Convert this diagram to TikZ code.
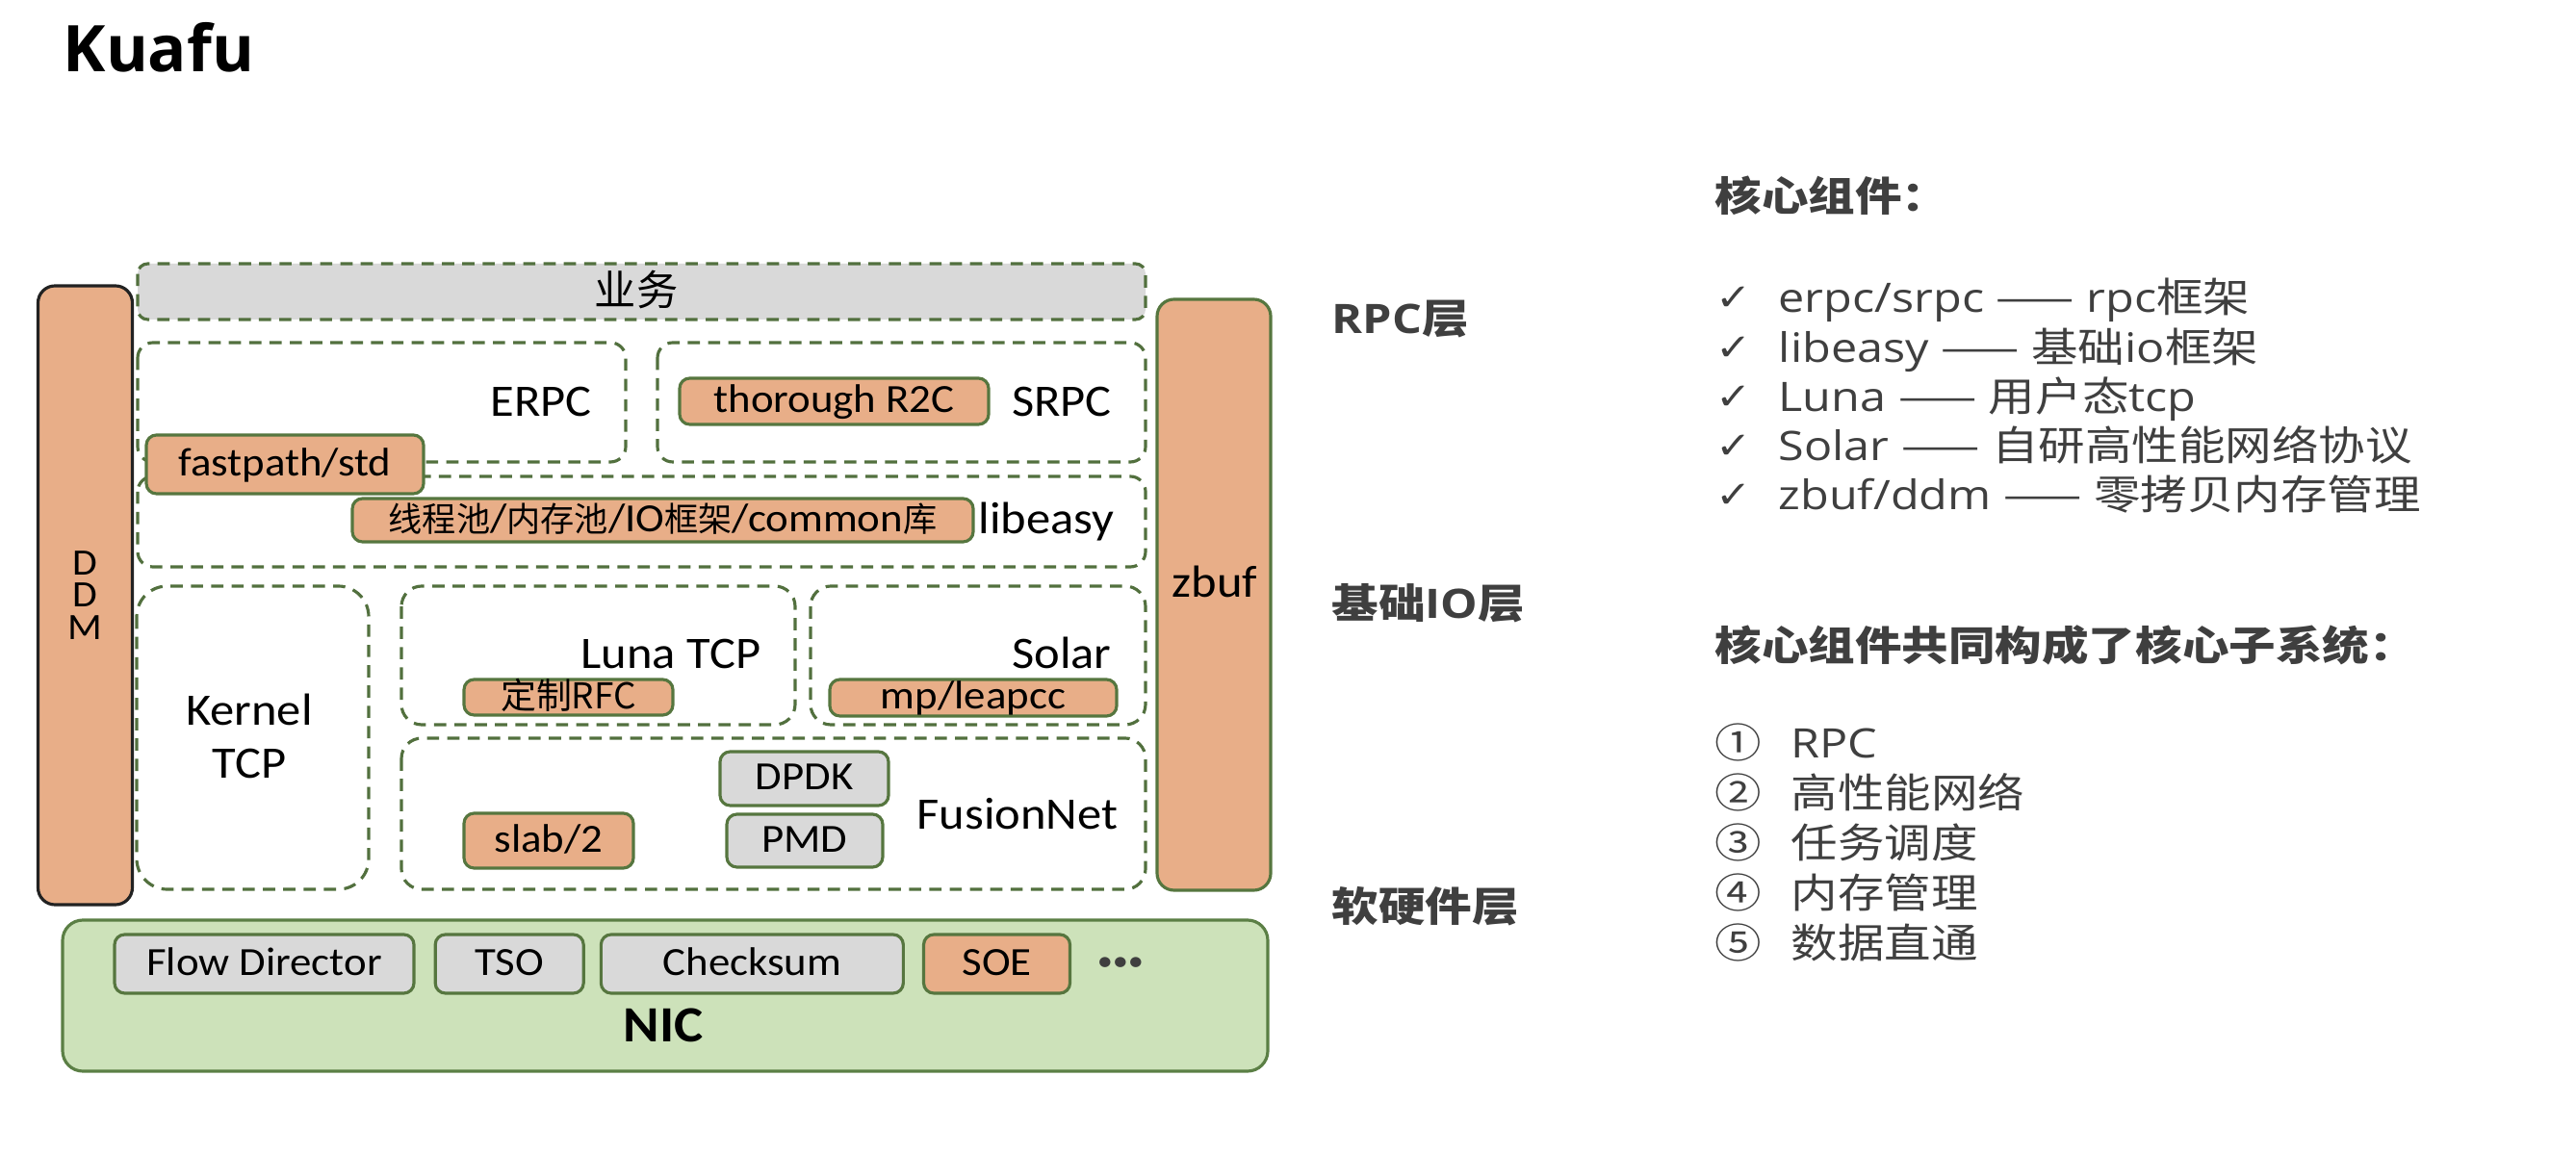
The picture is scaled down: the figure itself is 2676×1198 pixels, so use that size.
\documentclass[tikz,border=0pt]{standalone}
\usepackage{fontspec}
\usetikzlibrary{positioning}
\setmainfont{Carlito}[FakeStretch=1.08]
\newfontfamily\zhfont{Noto Sans CJK SC}
\newfontfamily\zhwide{Noto Sans CJK SC}[FakeStretch=1.15]
\newfontfamily\sidefont{Open Sans}[FakeStretch=1.15]
\newfontfamily\titlefont{Open Sans}
\newfontfamily\symfont{DejaVu Sans}[FakeStretch=1.15]
\newcommand{\zhdash}{{\zhwide ——}}

\definecolor{orangefill}{HTML}{E8AE88}
\definecolor{grayfill}{HTML}{D9D9D9}
\definecolor{nicfill}{HTML}{CDE2BA}
\definecolor{nicedge}{HTML}{5B7F45}
\definecolor{dashgreen}{HTML}{52703E}
\definecolor{boxgreen}{HTML}{56763F}
\definecolor{ddmedge}{HTML}{222222}
\definecolor{sidegray}{HTML}{3F3F3F}

\begin{document}
\begin{tikzpicture}[x=0.01cm,y=-0.01cm,
    boxsize/.style 2 args={minimum width=#1*0.01cm,minimum height=#2*0.01cm},
    dashbox/.style={draw=dashgreen,line width=0.9pt,dash pattern=on 3.6pt off 2.4pt,rounded corners=#1},
    dashbox/.default=4.5pt,
    tagbox/.style={draw=boxgreen,line width=0.9pt,rounded corners=3pt,inner sep=0pt,
      font=\fontsize{11.8}{14}\selectfont,text height=1.4ex,text depth=0pt},
    orangetag/.style={tagbox,fill=orangefill},
    graytag/.style={tagbox,fill=grayfill},
    sidebar/.style={fill=orangefill,line width=0.9pt,rounded corners=5pt,inner sep=0pt},
    biglabel/.style={inner sep=0pt,font=\fontsize{13.3}{16}\selectfont,text height=1.4ex,text depth=0pt},
    sidetext/.style={inner sep=0pt,anchor=base west,text=sidegray,font=\sidefont\fontsize{12}{14}\selectfont},
    layer/.style={sidetext,font=\sidefont\bfseries\fontsize{12}{14}\selectfont},
  ]
  \useasboundingbox (0,0) rectangle (2676,1198);

  \node[anchor=base west,inner sep=0pt,font=\titlefont\bfseries\fontsize{19}{22}\selectfont] (title) at (65,75) {Kuafu};

  \draw[dashbox=3pt,fill=grayfill] (143,274) rectangle (1190,332);
  \node[biglabel,font=\zhfont\fontsize{12.3}{15}\selectfont] (biz) at (661,306) {业务};

  \draw[dashbox] (143,356) rectangle (650,480);
  \draw[dashbox] (683,356) rectangle (1190,480);
  \draw[dashbox] (143,495) rectangle (1190,589);
  \draw[dashbox=9pt] (142,609) rectangle (383,924);
  \draw[dashbox=6pt] (417,609) rectangle (826,753);
  \draw[dashbox=6pt] (842,609) rectangle (1190,753);
  \draw[dashbox=6pt] (417,767) rectangle (1190,924);

  \node[sidebar,draw=ddmedge,boxsize={98}{643},align=center,font=\fontsize{11}{9.6}\selectfont] (ddm) at (88.5,618.5) {D\\D\\M};
  \node[sidebar,draw=boxgreen,boxsize={118}{614}] (zbufbar) at (1261,618) {};
  \node[biglabel] (zbuf) at (1262,609) {zbuf};

  \node[biglabel] (erpc) at (562,421) {ERPC};
  \node[biglabel] (srpc) at (1103,421) {SRPC};
  \node[biglabel] (libeasy) at (1087,543) {libeasy};
  \node[biglabel] (kernel) at (259,742) {Kernel};
  \node[biglabel] (kerneltcp) at (259,797) {TCP};
  \node[biglabel] (luna) at (697,683) {Luna TCP};
  \node[biglabel] (solar) at (1103,683) {Solar};
  \node[biglabel] (fusionnet) at (1057,850) {FusionNet};

  \node[orangetag,boxsize={321}{48}] (r2c) at (866.5,417) {thorough R2C};
  \node[orangetag,boxsize={288}{61}] (fastpath) at (296,482.5) {fastpath/std};
  \node[orangetag,boxsize={645}{45}] (pools) at (688.5,540.5)
    {{\zhfont\fontsize{10}{12}\selectfont 线程池}/{\zhfont\fontsize{10}{12}\selectfont 内存池}/IO{\zhfont\fontsize{10}{12}\selectfont 框架}/common{\zhfont\fontsize{10}{12}\selectfont 库}};
  \node[orangetag,boxsize={217}{37},font=\zhfont\fontsize{10.5}{12}\selectfont] (rfc) at (590.5,724.5) {定制RFC};
  \node[orangetag,boxsize={298}{38}] (leapcc) at (1011,725) {mp/leapcc};
  \node[orangetag,boxsize={176}{57}] (slab) at (570,873.5) {slab/2};
  \node[graytag,boxsize={175}{56}] (dpdk) at (835.5,809) {DPDK};
  \node[graytag,boxsize={162}{55}] (pmd) at (836,873.5) {PMD};

  \node[boxsize={1252}{157},fill=nicfill,draw=nicedge,line width=0.9pt,rounded corners=6pt] (nicbox) at (691,1034.5) {};
  \node[biglabel,font=\bfseries\fontsize{15}{18}\selectfont] (nic) at (689,1071) {NIC};
  \node[graytag,boxsize={311}{61}] (flow) at (274.5,1001.5) {Flow Director};
  \node[graytag,boxsize={154}{61},right=0.19cm of flow] (tso) {TSO};
  \node[graytag,boxsize={314}{61},right=0.15cm of tso] (checksum) {Checksum};
  \node[orangetag,boxsize={152}{61},right=0.18cm of checksum] (soe) {SOE};
  \node[inner sep=0pt,text=sidegray,font=\fontsize{8.5}{10}\selectfont,right=0.26cm of soe] (more) {\textbullet\textbullet\textbullet};

  \node[layer] (rpclayer) at (1383,347) {RPC{\zhwide 层}};
  \node[layer] (iolayer) at (1383,643) {{\zhwide 基础}IO{\zhwide 层}};
  \node[layer] (hwlayer) at (1383,958) {{\zhwide 软硬件层}};

  \node[sidetext,font=\zhwide\bfseries\fontsize{12}{14}\selectfont] (core) at (1781,220) {核心组件：};
  \foreach \txt [count=\i] in {
      {erpc/srpc \zhdash\ rpc{\zhwide 框架}},
      {libeasy \zhdash\ {\zhwide 基础}io{\zhwide 框架}},
      {Luna \zhdash\ {\zhwide 用户态}tcp},
      {Solar \zhdash\ {\zhwide 自研高性能网络协议}},
      {zbuf/ddm \zhdash\ {\zhwide 零拷贝内存管理}}} {
    \node[sidetext,font=\symfont\fontsize{11}{12}\selectfont] (tick\i) at (1782,{323+51.25*(\i-1)}) {✓};
    \node[sidetext] (item\i) at (1847,{325+51.25*(\i-1)}) {\txt};
  }

  \node[sidetext,font=\zhwide\bfseries\fontsize{12}{14}\selectfont] (system) at (1781,687) {核心组件共同构成了核心子系统：};
  \foreach \num/\txt [count=\i] in {①/RPC, ②/{\zhwide 高性能网络}, ③/{\zhwide 任务调度}, ④/{\zhwide 内存管理}, ⑤/{\zhwide 数据直通}} {
    \node[sidetext,font=\zhwide\fontsize{12}{14}\selectfont] (num\i) at (1781,{788+51.75*(\i-1)}) {\num};
    \node[sidetext] (sub\i) at (1860,{788+51.75*(\i-1)}) {\txt};
  }
\end{tikzpicture}
\end{document}
